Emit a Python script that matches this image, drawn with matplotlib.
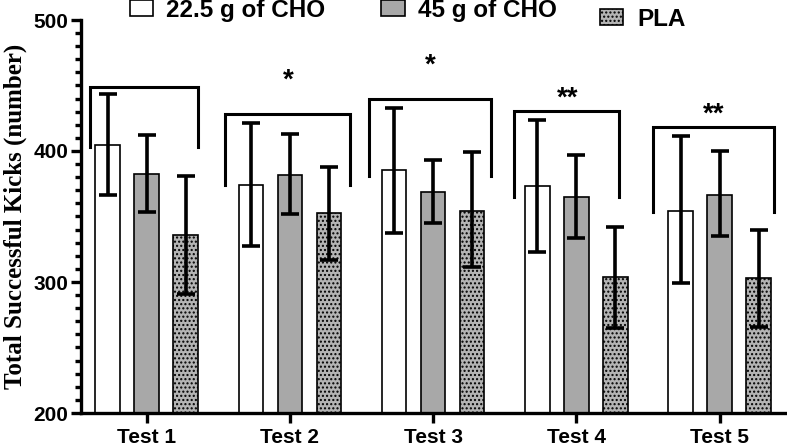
#Program to plot total successful kicks per test
import numpy as np
import matplotlib.pyplot as plt
from matplotlib.patches import Patch

plt.rcParams['hatch.linewidth'] = 1.0

#data
tests = ['Test 1', 'Test 2', 'Test 3', 'Test 4', 'Test 5']
groups = ['22.5 g of CHO', '45 g of CHO', 'PLA']
cho22 = [404.6, 373.8, 385.3, 373.3, 354.4]
cho22_lo = [366.4, 327.7, 337.2, 323.1, 299.5]
cho22_hi = [443.5, 421.1, 433.0, 423.7, 411.5]
cho45 = [382.4, 381.7, 368.7, 365.1, 366.4]
cho45_lo = [353.2, 351.7, 344.8, 333.8, 335.1]
cho45_hi = [412.0, 413.0, 392.9, 397.0, 400.0]
pla = [336.1, 352.4, 354.4, 303.8, 303.0]
pla_lo = [290.8, 316.8, 311.5, 264.7, 265.9]
pla_hi = [380.9, 388.0, 399.0, 342.2, 339.7]

#significance brackets (offset left, offset right, top, leg bottom) and stars
br_left = [-0.395, -0.453, -0.449, -0.437, -0.462]
br_right = [0.357, 0.418, 0.406, 0.30, 0.378]
br_top = [448.6, 428.2, 439.5, 430.8, 418.6]
br_bot = [403.0, 374.0, 381.0, 365.1, 353.7]
stars = ['', '*', '*', '**', '**']
star_x = [0.0, -0.01, -0.02, -0.06, -0.04]
star_y = [0, 454, 465.5, 440, 428]

#setting up plot
fig = plt.figure(figsize=(7.87, 4.48), dpi=100)
ax = fig.add_axes([80.7/787, 1-413/448, 1-80.7/787, (413-20)/448])

x = np.arange(len(tests))
w = 0.171
step = 0.272
means = [cho22, cho45, pla]
los = [cho22_lo, cho45_lo, pla_lo]
his = [cho22_hi, cho45_hi, pla_hi]
faces = ['white', '#a8a8a8', '#b4b4b4']
hatches = [None, None, '....']

for j in range(3):
    m = np.array(means[j])
    err = np.vstack((m - np.array(los[j]), np.array(his[j]) - m))
    ax.bar(x + (j-1)*step, m, w, color=faces[j], edgecolor='black',
           linewidth=1.2, hatch=hatches[j], zorder=2)
    ax.errorbar(x + (j-1)*step, m, yerr=err, fmt='none', ecolor='black',
                elinewidth=2.6, capsize=6.5, capthick=2.6, zorder=3)

#brackets
for i in range(len(tests)):
    xl = x[i] + br_left[i]
    xr = x[i] + br_right[i]
    ax.plot([xl, xl, xr, xr], [br_bot[i], br_top[i], br_top[i], br_bot[i]],
            color='black', lw=2.2, solid_joinstyle='miter', zorder=4)
    if stars[i]:
        ax.text(x[i] + star_x[i], star_y[i], stars[i], ha='center', va='center',
                fontsize=20, fontweight='bold', family='Liberation Sans')

#axes styling
ax.set_xlim(-0.46, 4.47)
ax.set_ylim(200, 500)
ax.set_yticks([200, 300, 400, 500])
ax.set_yticks(np.arange(200, 501, 10), minor=True)
ax.set_xticks(x)
ax.set_xticklabels(tests)
for s in ['top', 'right']:
    ax.spines[s].set_visible(False)
for s in ['left', 'bottom']:
    ax.spines[s].set_linewidth(2.4)
ax.tick_params(axis='y', which='major', length=7, width=2.4, labelsize=15, pad=2)
ax.tick_params(axis='y', which='minor', length=4.5, width=2.4)
ax.tick_params(axis='x', which='major', length=7, width=2.4, labelsize=15, pad=4)
ax.tick_params(axis='x', which='minor', length=0)
for lab in ax.get_xticklabels() + ax.get_yticklabels():
    lab.set_fontweight('bold')
    lab.set_family('Liberation Sans')

ax.set_ylabel('Total Successful Kicks (number)', fontsize=18, fontweight='bold',
              family='Liberation Serif')
ax.yaxis.set_label_coords(-0.076, 0.5)

#legend
h1 = [Patch(facecolor=faces[0], edgecolor='black', linewidth=1.2),
      Patch(facecolor=faces[1], edgecolor='black', linewidth=1.2)]
leg1 = fig.legend(h1, groups[:2], ncol=2, loc='center left',
                  bbox_to_anchor=(130/787, 1-10/448), frameon=False,
                  borderpad=0, borderaxespad=0, handlelength=0.95, handleheight=0.65,
                  handletextpad=0.55, columnspacing=2.3,
                  prop={'family': 'Liberation Sans', 'weight': 'bold', 'size': 17.5})
h2 = [Patch(facecolor=faces[2], edgecolor='black', linewidth=1.2, hatch='....')]
leg2 = fig.legend(h2, groups[2:], loc='center left',
                  bbox_to_anchor=(600/787, 1-19/448), frameon=False,
                  borderpad=0, borderaxespad=0, handlelength=0.95, handleheight=0.65,
                  handletextpad=0.6,
                  prop={'family': 'Liberation Sans', 'weight': 'bold', 'size': 17.5})

plt.savefig('out.png', dpi=100)
